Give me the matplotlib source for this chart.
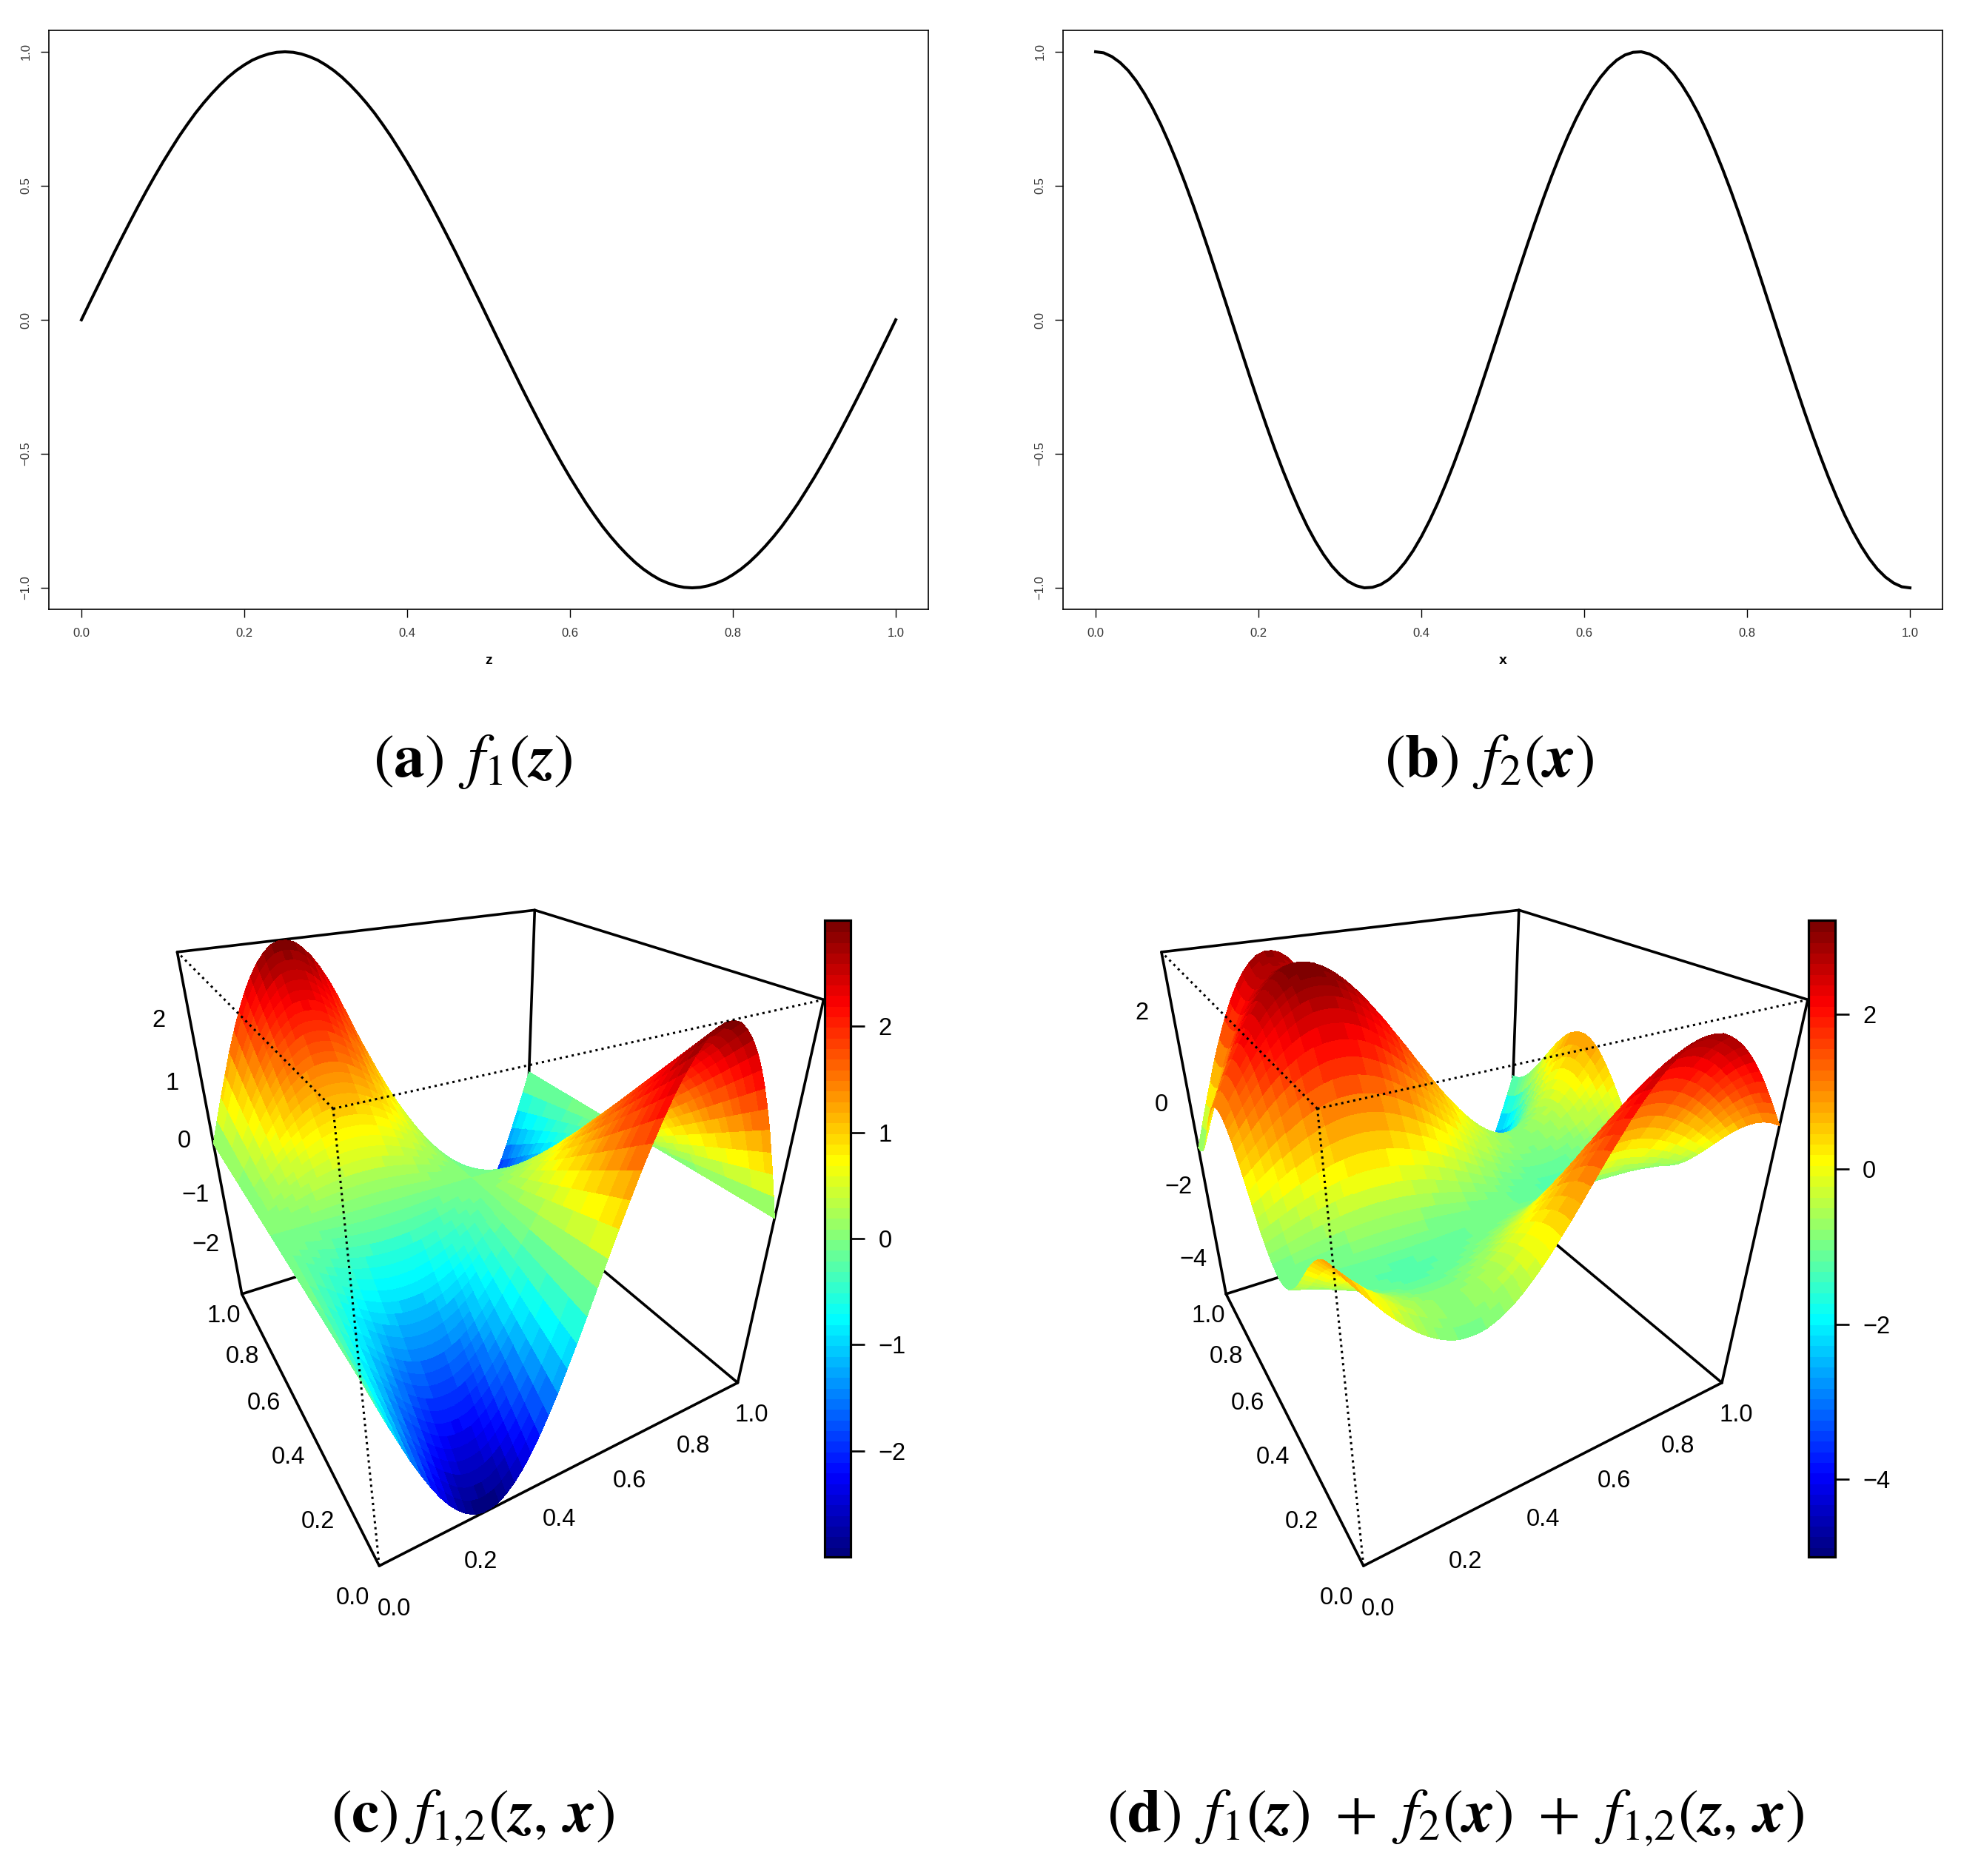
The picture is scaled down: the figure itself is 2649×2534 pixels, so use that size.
import numpy as np
import matplotlib
matplotlib.use("Agg")
import matplotlib.pyplot as plt
from matplotlib.colors import LinearSegmentedColormap, Normalize
from matplotlib.cm import ScalarMappable
from mpl_toolkits.mplot3d import Axes3D  # noqa: F401

plt.rcParams['font.family'] = ['Liberation Sans', 'DejaVu Sans']
plt.rcParams['mathtext.fontset'] = 'stix'

W, H = 2649, 2534
DPI = 100

# ------------------------------------------------------------------ data
# f1(z): at z = 0, 0.01, ..., 1
z_values = [i / 100 for i in range(101)]
f1_values = [
    0.000, 0.063, 0.125, 0.187, 0.249, 0.309, 0.368, 0.426, 0.482, 0.536,
    0.588, 0.637, 0.685, 0.729, 0.771, 0.809, 0.844, 0.876, 0.905, 0.930,
    0.951, 0.969, 0.982, 0.992, 0.998, 1.000, 0.998, 0.992, 0.982, 0.969,
    0.951, 0.930, 0.905, 0.876, 0.844, 0.809, 0.771, 0.729, 0.685, 0.637,
    0.588, 0.536, 0.482, 0.426, 0.368, 0.309, 0.249, 0.187, 0.125, 0.063,
    0.000, -0.063, -0.125, -0.187, -0.249, -0.309, -0.368, -0.426, -0.482, -0.536,
    -0.588, -0.637, -0.685, -0.729, -0.771, -0.809, -0.844, -0.876, -0.905, -0.930,
    -0.951, -0.969, -0.982, -0.992, -0.998, -1.000, -0.998, -0.992, -0.982, -0.969,
    -0.951, -0.930, -0.905, -0.876, -0.844, -0.809, -0.771, -0.729, -0.685, -0.637,
    -0.588, -0.536, -0.482, -0.426, -0.368, -0.309, -0.249, -0.187, -0.125, -0.063,
    0.000]

# f2(x): at x = 0, 0.01, ..., 1
x_values = [i / 100 for i in range(101)]
f2_values = [
    1.000, 0.996, 0.982, 0.960, 0.930, 0.891, 0.844, 0.790, 0.729, 0.661,
    0.588, 0.509, 0.426, 0.339, 0.249, 0.156, 0.063, -0.031, -0.125, -0.218,
    -0.309, -0.397, -0.482, -0.562, -0.637, -0.707, -0.771, -0.827, -0.876, -0.918,
    -0.951, -0.976, -0.992, -1.000, -0.998, -0.988, -0.969, -0.941, -0.905, -0.861,
    -0.809, -0.750, -0.685, -0.613, -0.536, -0.454, -0.368, -0.279, -0.187, -0.094,
    0.000, 0.094, 0.187, 0.279, 0.368, 0.454, 0.536, 0.613, 0.685, 0.750,
    0.809, 0.861, 0.905, 0.941, 0.969, 0.988, 0.998, 1.000, 0.992, 0.976,
    0.951, 0.918, 0.876, 0.827, 0.771, 0.707, 0.637, 0.562, 0.482, 0.397,
    0.309, 0.218, 0.125, 0.031, -0.063, -0.156, -0.249, -0.339, -0.426, -0.509,
    -0.588, -0.661, -0.729, -0.790, -0.844, -0.891, -0.930, -0.960, -0.982, -0.996,
    -1.000]

# f1,2 along the back edge x = 1 of panel (c), per z
f12_edge = [
    0.00, 0.19, 0.38, 0.56, 0.75, 0.93, 1.10, 1.28, 1.45, 1.61,
    1.76, 1.91, 2.05, 2.19, 2.31, 2.43, 2.53, 2.63, 2.71, 2.79,
    2.85, 2.91, 2.95, 2.98, 2.99, 3.00, 2.99, 2.98, 2.95, 2.91,
    2.85, 2.79, 2.71, 2.63, 2.53, 2.43, 2.31, 2.19, 2.05, 1.91,
    1.76, 1.61, 1.45, 1.28, 1.10, 0.93, 0.75, 0.56, 0.38, 0.19,
    0.00, -0.19, -0.38, -0.56, -0.75, -0.93, -1.10, -1.28, -1.45, -1.61,
    -1.76, -1.91, -2.05, -2.19, -2.31, -2.43, -2.53, -2.63, -2.71, -2.79,
    -2.85, -2.91, -2.95, -2.98, -2.99, -3.00, -2.99, -2.98, -2.95, -2.91,
    -2.85, -2.79, -2.71, -2.63, -2.53, -2.43, -2.31, -2.19, -2.05, -1.91,
    -1.76, -1.61, -1.45, -1.28, -1.10, -0.93, -0.75, -0.56, -0.38, -0.19,
    0.00]
# share of the edge value reached across x, at x = 0, 0.02, ..., 1
f12_weight = [
    -1.00, -0.96, -0.92, -0.88, -0.84, -0.80, -0.76, -0.72, -0.68, -0.64,
    -0.60, -0.56, -0.52, -0.48, -0.44, -0.40, -0.36, -0.32, -0.28, -0.24,
    -0.20, -0.16, -0.12, -0.08, -0.04, 0.00, 0.04, 0.08, 0.12, 0.16,
    0.20, 0.24, 0.28, 0.32, 0.36, 0.40, 0.44, 0.48, 0.52, 0.56,
    0.60, 0.64, 0.68, 0.72, 0.76, 0.80, 0.84, 0.88, 0.92, 0.96,
    1.00]

grid_ticks = [0.0, 0.2, 0.4, 0.6, 0.8, 1.0]
curve_yticks = [-1.0, -0.5, 0.0, 0.5, 1.0]
c_range = (-3.0, 3.0)
d_range = (-5.0, 3.21)
c_zticks = [-2, -1, 0, 1, 2]
d_zticks = [-4, -2, 0, 2]
c_barticks = [-2, -1, 0, 1, 2]
d_barticks = [-4, -2, 0, 2]
jet_colors = ["#00007F", "#0000FF", "#007FFF", "#00FFFF", "#7FFF7F",
              "#FFFF00", "#FF7F00", "#FF0000", "#7F0000"]

captions = {
    'a': r"$(\mathbf{a})\ \,f_1(\mathbfit{z})$",
    'b': r"$(\mathbf{b})\ \,f_2(\mathbfit{x})$",
    'c': r"$(\mathbf{c})\ f_{1{,}2}(\mathbfit{z},\,\mathbfit{x})$",
    'd': r"$(\mathbf{d})\ \,f_1(\mathbfit{z})\ +\ f_2(\mathbfit{x})\ +\ f_{1{,}2}(\mathbfit{z},\,\mathbfit{x})$",
}

# ------------------------------------------------------------------ helpers
fig = plt.figure(figsize=(W / DPI, H / DPI), dpi=DPI, facecolor='white')


def px_axes(x0, y0, x1, y1, **kw):
    """Axes from a pixel box measured from the top-left of the figure."""
    return fig.add_axes([x0 / W, 1 - y1 / H, (x1 - x0) / W, (y1 - y0) / H], **kw)


def curve_panel(x0, x, y, xlabel):
    ax = px_axes(x0, 41, x0 + 1188, 823)
    ax.plot(x, y, color='black', lw=2.9, solid_joinstyle='round')
    ax.set_xlim(-0.04, 1.04)
    ax.set_ylim(-1.08, 1.08)
    ax.set_xticks(grid_ticks)
    ax.set_xticklabels([f"{t:.1f}" for t in grid_ticks])
    ax.set_yticks(curve_yticks)
    ax.set_yticklabels([f"{t:.1f}".replace('-', '\u2212') for t in curve_yticks],
                        rotation=90, va='center')
    ax.tick_params(axis='x', length=8, width=1, labelsize=12, pad=10, labelcolor='#333333')
    ax.tick_params(axis='y', length=8, width=1, labelsize=12, pad=9, labelcolor='#333333')
    for s in ax.spines.values():
        s.set_linewidth(1.2)
    ax.set_xlabel(xlabel, fontsize=14, fontweight='bold', labelpad=15)


# Screen positions (top-left pixels) of the eight box corners of panel (c)
# keyed by unit-cube corner; panel (d) is the same view shifted right.
box_screen = {
    (0, 0, 0): (512.5, 2115.8),
    (1, 0, 0): (995.0, 1868.0),
    (0, 1, 0): (326.0, 1746.6),
    (1, 1, 0): (710.0, 1627.6),
    (0, 0, 1): (452.0, 1497.8),
    (1, 0, 1): (1113.0, 1349.0),
    (0, 1, 1): (239.0, 1286.8),
    (1, 1, 1): (721.4, 1229.4),
}


def fit_camera(shift):
    rows = []
    for (a, b, c), (u, v) in box_screen.items():
        u = u + shift
        X = [a, b, c, 1]
        rows.append(X + [0, 0, 0, 0] + [-u * t for t in X])
        rows.append([0, 0, 0, 0] + X + [-v * t for t in X])
    _, _, vt = np.linalg.svd(np.array(rows, float))
    P = vt[-1].reshape(3, 4)
    if P[2] @ np.array([0.5, 0.5, 0.5, 1]) < 0:
        P = -P
    return P / (P[2] @ np.array([0.5, 0.5, 0.5, 1]))


def surface_panel(values, zrange, zticks, barticks, shift):
    zlo, zhi = zrange
    cam = fit_camera(shift)
    # unit cube -> data coordinates
    scale = np.array([[1, 0, 0, 0], [0, 1, 0, 0],
                      [0, 0, 1 / (zhi - zlo), -zlo / (zhi - zlo)], [0, 0, 0, 1]])
    cam = cam @ scale

    ax = px_axes(40 + shift, 1170, 40 + shift + 1180, 1170 + 1180,
                 projection='3d', computed_zorder=False)
    ax.set_proj_type('ortho')
    ax.set_axis_off()
    ax.patch.set_alpha(0)

    def get_proj():
        to_disp = np.array([[1, 0, 0], [0, -1, H], [0, 0, 1]], float)
        to_view = ax.transData.inverted().get_matrix()
        Q = to_view @ to_disp @ cam
        return np.vstack([Q[0], Q[1], [0, 0, 0, -1], Q[2]])
    ax.get_proj = get_proj

    X, Y = np.meshgrid(z_values[::2], x_values[::2], indexing='ij')
    Z = np.asarray(values)
    cmap = LinearSegmentedColormap.from_list('jetcol', jet_colors, N=60)
    norm = Normalize(zlo, zhi)
    mean = (Z[:-1, :-1] + Z[1:, :-1] + Z[:-1, 1:] + Z[1:, 1:]) / 4
    ax.plot_surface(X, Y, Z, rstride=1, cstride=1, facecolors=cmap(norm(mean)),
                    shade=False, antialiased=False, linewidth=0, zorder=2)

    # box edges: solid behind the surface, dotted in front of it
    solid = [((0, 0, 0), (1, 0, 0)), ((0, 0, 0), (0, 1, 0)), ((1, 0, 0), (1, 1, 0)),
             ((0, 1, 0), (1, 1, 0)), ((1, 0, 0), (1, 0, 1)), ((0, 1, 0), (0, 1, 1)),
             ((1, 1, 0), (1, 1, 1)), ((0, 1, 1), (1, 1, 1)), ((1, 0, 1), (1, 1, 1))]
    dotted = [((0, 0, 0), (0, 0, 1)), ((0, 0, 1), (1, 0, 1)), ((0, 0, 1), (0, 1, 1))]

    def zval(t):
        return zlo + t * (zhi - zlo)
    for p, q in solid:
        ax.plot([p[0], q[0]], [p[1], q[1]], [zval(p[2]), zval(q[2])],
                color='black', lw=2.6, zorder=1, solid_capstyle='round')
    for p, q in dotted:
        ax.plot([p[0], q[0]], [p[1], q[1]], [zval(p[2]), zval(q[2])],
                color='black', lw=2.2, ls=(0, (1, 1.7)), zorder=3)

    fs = 23.5

    def label(xv, yv, zv, s):
        v = cam @ np.array([xv, yv, zv, 1.0])
        fig.text(v[0] / v[2] / W, 1 - v[1] / v[2] / H, s, ha='center', va='center', fontsize=fs)

    rng = zhi - zlo
    for t in grid_ticks:
        label(t * 0.965 - 0.01, -0.09, zlo - 0.008 * rng, f"{t:.1f}")
        label(-0.062, t, zlo - 0.056 * rng, f"{t:.1f}")
    for t in zticks:
        label(-0.07, 1, t + 0.009 * rng + 0.18 * (zhi - t) / rng, f"{t}".replace('-', '\u2212'))

    cax = px_axes(1113.5 + shift, 1243, 1149 + shift, 2103)
    cb = fig.colorbar(ScalarMappable(norm=norm, cmap=cmap), cax=cax, ticks=barticks)
    cb.ax.set_yticklabels([f"{t}".replace('-', '\u2212') for t in barticks])
    cb.ax.tick_params(length=14, width=1.9, labelsize=fs, pad=13)
    cb.outline.set_linewidth(2.3)
    cb.solids.set_edgecolor('face')
    return ax


# ------------------------------------------------------------------ panels
curve_panel(66, z_values, f1_values, 'z')
curve_panel(1436, x_values, f2_values, 'x')

f12_table = np.outer(f12_edge[::2], f12_weight)
sum_table = f12_table + np.asarray(f1_values[::2])[:, None] + np.asarray(f2_values[::2])[None, :]
surface_panel(f12_table, c_range, c_zticks, c_barticks, 0)
surface_panel(sum_table, d_range, d_zticks, d_barticks, 1329.5)

for key, cx, cy in [('a', 639, 1029), ('b', 2012, 1029), ('c', 638, 2456), ('d', 1966, 2456)]:
    fig.text(cx / W, 1 - cy / H, captions[key], fontsize=60, ha='center', va='center', color='black')

fig.savefig('out.png', dpi=DPI, facecolor='white')
